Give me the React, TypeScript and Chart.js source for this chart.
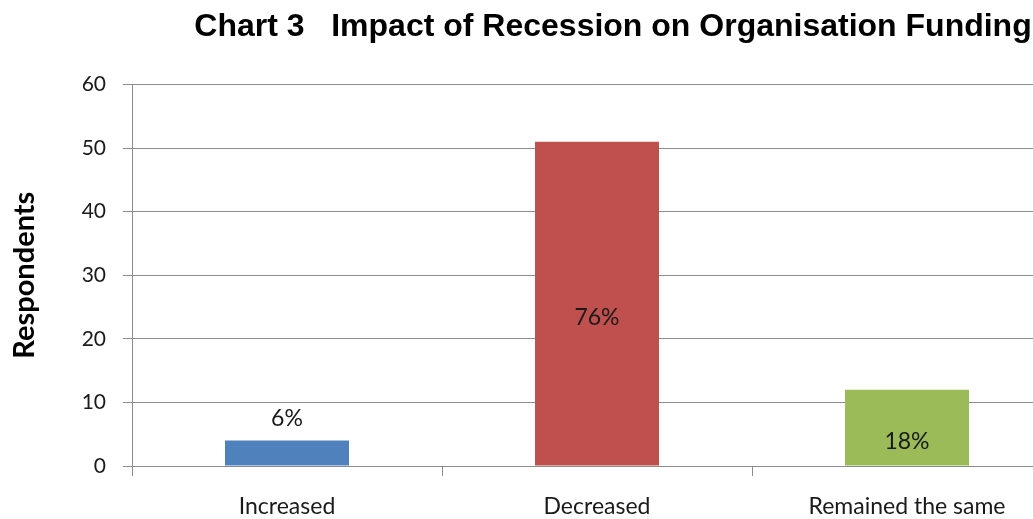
import React, { useEffect, useRef } from "react";
import { Chart, registerables } from "chart.js";

Chart.register(...registerables);

const categories = ["Increased", "Decreased", "Remained the same"];
const respondents = [4, 51, 12];
const percentLabels = ["6%", "76%", "18%"];
const labelPlacement = ["outside", "inside", "inside"];
const barColors = ["#4F81BD", "#C0504D", "#9BBB59"];
const yTicks = [0, 10, 20, 30, 40, 50, 60];

const GRID = "#8c8c8c";

const dataLabelPlugin = {
  id: "dataLabels",
  afterDatasetsDraw(chart: any) {
    const ctx = chart.ctx;
    const meta = chart.getDatasetMeta(0);
    ctx.save();
    ctx.font = "23px Lato";
    ctx.fillStyle = "#1a1a1a";
    ctx.textAlign = "center";
    ctx.textBaseline = "middle";
    meta.data.forEach((bar: any, i: number) => {
      const { x, y, base } = bar.getProps(["x", "y", "base"], true);
      let ty;
      if (labelPlacement[i] === "outside") {
        ty = y - 22;
      } else {
        ty = (y + base) / 2 + 14;
      }
      ctx.fillText(percentLabels[i], x, ty);
    });
    ctx.restore();
  },
};

export default function App() {
  const ref = useRef<HTMLCanvasElement>(null);
  useEffect(() => {
    if (!ref.current) return;
    const chart = new Chart(ref.current, {
      type: "bar",
      data: {
        labels: categories,
        datasets: [
          {
            data: respondents,
            backgroundColor: barColors,
            borderWidth: 0,
            barPercentage: 0.4,
            categoryPercentage: 1,
          },
        ],
      },
      options: {
        responsive: false,
        animation: false,
        layout: { padding: 0 },
        plugins: {
          legend: { display: false },
          tooltip: { enabled: false },
          title: {
            display: true,
            text: "Chart 3   Impact of Recession on Organisation Funding",
            color: "#000",
            font: { family: "Liberation Sans", size: 32, weight: "bold" },
            padding: { top: 8, bottom: 38 },
          },
        },
        scales: {
          x: {
            offset: true,
            grid: {
              offset: true,
              drawOnChartArea: false,
              color: GRID,
              tickLength: 10,
            },
            border: { color: GRID },
            ticks: {
              color: "#1a1a1a",
              font: { family: "Lato", size: 23 },
              padding: 17,
              maxRotation: 0,
            },
            afterFit: (s: any) => {
              s.height = 53;
            },
          },
          y: {
            min: 0,
            max: 60,
            afterBuildTicks: (s: any) => {
              s.ticks = yTicks.map((v) => ({ value: v }));
            },
            grid: { color: GRID, tickLength: 9 },
            border: { color: GRID },
            ticks: {
              color: "#1a1a1a",
              font: { family: "Lato", size: 21 },
              padding: 17,
            },
            title: {
              display: true,
              text: "Respondents",
              color: "#000",
              font: { family: "Lato", size: 29, weight: "bold" },
              padding: { top: 7, bottom: 0 },
            },
            afterFit: (s: any) => {
              s.width = 132;
            },
          },
          yRight: {
            position: "right",
            min: 0,
            max: 60,
            grid: { display: false },
            border: { display: false },
            ticks: { display: false },
            afterFit: (s: any) => {
              s.width = 164;
            },
          },
        },
      },
      plugins: [dataLabelPlugin],
    });
    return () => chart.destroy();
  }, []);
  return (
    <div
      style={{
        position: "fixed",
        left: 0,
        top: 0,
        width: 1033,
        height: 519,
        overflow: "hidden",
        background: "#fff",
      }}
    >
      <canvas ref={ref} width={1226} height={519} style={{ display: "block" }} />
    </div>
  );
}
